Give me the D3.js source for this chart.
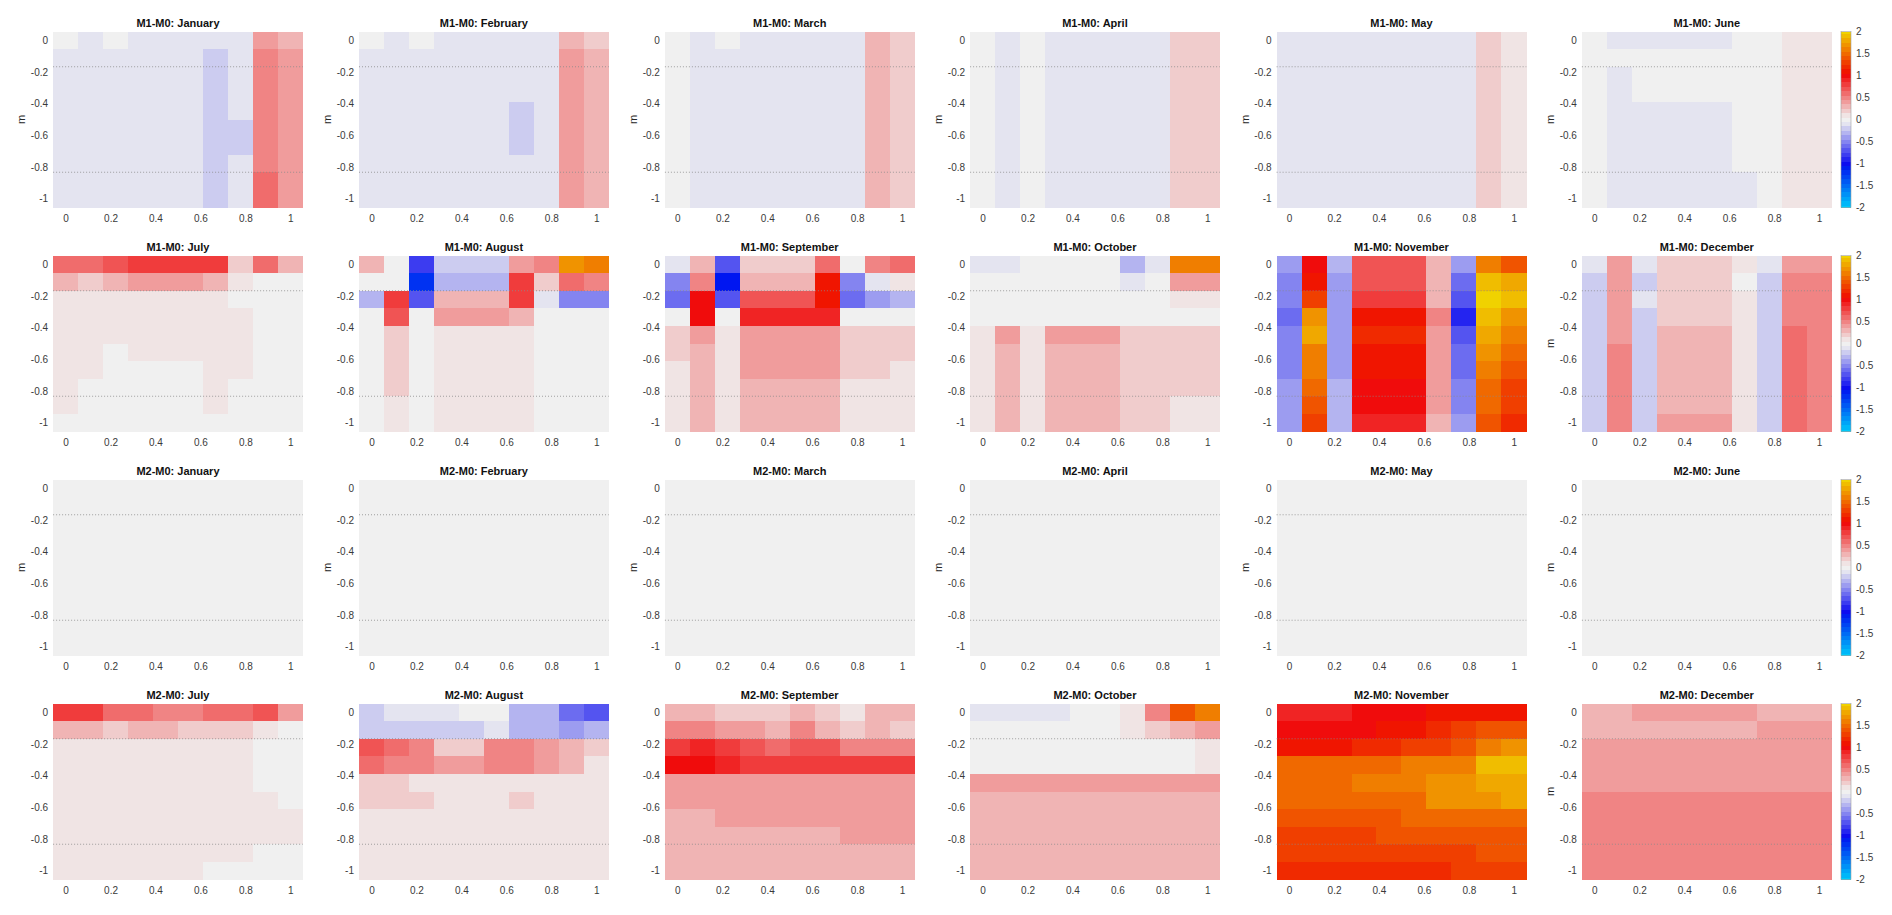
<!DOCTYPE html>
<html><head><meta charset="utf-8">
<script src="https://cdn.jsdelivr.net/npm/d3@7"></script>
<style>
body{margin:0;background:#fff}
svg{font-family:"Liberation Sans",Arial,Helvetica,sans-serif}
</style>
</head><body>
<svg id="chart" width="1892" height="915"></svg>
<script>
// ---------- grid coordinates & ticks ----------
const xGrid = [0,0.1111,0.2222,0.3333,0.4444,0.5556,0.6667,0.7778,0.8889,1];
const zGrid = [0,-0.1111,-0.2222,-0.3333,-0.4444,-0.5556,-0.6667,-0.7778,-0.8889,-1];
const xTicks = [0,0.2,0.4,0.6,0.8,1];
const yTicks = [0,-0.2,-0.4,-0.6,-0.8,-1];
const cbTicks = [2,1.5,1,0.5,0,-0.5,-1,-1.5,-2];
const refDepths = [-0.1667,-0.8333];
const monthNames = ["January","February","March","April","May","June","July","August","September","October","November","December"];
const runNames = ["M1-M0","M2-M0"];

// ---------- data (rows: depth 0 -> -1, columns: x 0 -> 1) ----------
const M1_January = [
[0,-0.1,0,-0.1,-0.1,-0.1,-0.1,-0.1,0.4,0.3],
[-0.1,-0.1,-0.1,-0.1,-0.1,-0.1,-0.2,-0.1,0.5,0.4],
[-0.1,-0.1,-0.1,-0.1,-0.1,-0.1,-0.2,-0.1,0.5,0.4],
[-0.1,-0.1,-0.1,-0.1,-0.1,-0.1,-0.2,-0.1,0.5,0.4],
[-0.1,-0.1,-0.1,-0.1,-0.1,-0.1,-0.2,-0.1,0.5,0.4],
[-0.1,-0.1,-0.1,-0.1,-0.1,-0.1,-0.2,-0.2,0.5,0.4],
[-0.1,-0.1,-0.1,-0.1,-0.1,-0.1,-0.2,-0.2,0.5,0.4],
[-0.1,-0.1,-0.1,-0.1,-0.1,-0.1,-0.2,-0.1,0.5,0.4],
[-0.1,-0.1,-0.1,-0.1,-0.1,-0.1,-0.2,-0.1,0.6,0.4],
[-0.1,-0.1,-0.1,-0.1,-0.1,-0.1,-0.2,-0.1,0.6,0.4]];
const M1_February = [
[0,-0.1,0,-0.1,-0.1,-0.1,-0.1,-0.1,0.3,0.2],
[-0.1,-0.1,-0.1,-0.1,-0.1,-0.1,-0.1,-0.1,0.4,0.3],
[-0.1,-0.1,-0.1,-0.1,-0.1,-0.1,-0.1,-0.1,0.4,0.3],
[-0.1,-0.1,-0.1,-0.1,-0.1,-0.1,-0.1,-0.1,0.4,0.3],
[-0.1,-0.1,-0.1,-0.1,-0.1,-0.1,-0.2,-0.1,0.4,0.3],
[-0.1,-0.1,-0.1,-0.1,-0.1,-0.1,-0.2,-0.1,0.4,0.3],
[-0.1,-0.1,-0.1,-0.1,-0.1,-0.1,-0.2,-0.1,0.4,0.3],
[-0.1,-0.1,-0.1,-0.1,-0.1,-0.1,-0.1,-0.1,0.4,0.3],
[-0.1,-0.1,-0.1,-0.1,-0.1,-0.1,-0.1,-0.1,0.4,0.3],
[-0.1,-0.1,-0.1,-0.1,-0.1,-0.1,-0.1,-0.1,0.4,0.3]];
const M1_March = [
[0,-0.1,0,-0.1,-0.1,-0.1,-0.1,-0.1,0.3,0.2],
[0,-0.1,-0.1,-0.1,-0.1,-0.1,-0.1,-0.1,0.3,0.2],
[0,-0.1,-0.1,-0.1,-0.1,-0.1,-0.1,-0.1,0.3,0.2],
[0,-0.1,-0.1,-0.1,-0.1,-0.1,-0.1,-0.1,0.3,0.2],
[0,-0.1,-0.1,-0.1,-0.1,-0.1,-0.1,-0.1,0.3,0.2],
[0,-0.1,-0.1,-0.1,-0.1,-0.1,-0.1,-0.1,0.3,0.2],
[0,-0.1,-0.1,-0.1,-0.1,-0.1,-0.1,-0.1,0.3,0.2],
[0,-0.1,-0.1,-0.1,-0.1,-0.1,-0.1,-0.1,0.3,0.2],
[0,-0.1,-0.1,-0.1,-0.1,-0.1,-0.1,-0.1,0.3,0.2],
[0,-0.1,-0.1,-0.1,-0.1,-0.1,-0.1,-0.1,0.3,0.2]];
const M1_April = [
[0,-0.1,0,-0.1,-0.1,-0.1,-0.1,-0.1,0.2,0.2],
[0,-0.1,0,-0.1,-0.1,-0.1,-0.1,-0.1,0.2,0.2],
[0,-0.1,0,-0.1,-0.1,-0.1,-0.1,-0.1,0.2,0.2],
[0,-0.1,0,-0.1,-0.1,-0.1,-0.1,-0.1,0.2,0.2],
[0,-0.1,0,-0.1,-0.1,-0.1,-0.1,-0.1,0.2,0.2],
[0,-0.1,0,-0.1,-0.1,-0.1,-0.1,-0.1,0.2,0.2],
[0,-0.1,0,-0.1,-0.1,-0.1,-0.1,-0.1,0.2,0.2],
[0,-0.1,0,-0.1,-0.1,-0.1,-0.1,-0.1,0.2,0.2],
[0,-0.1,0,-0.1,-0.1,-0.1,-0.1,-0.1,0.2,0.2],
[0,-0.1,0,-0.1,-0.1,-0.1,-0.1,-0.1,0.2,0.2]];
const M1_May = [
[-0.1,-0.1,-0.1,-0.1,-0.1,-0.1,-0.1,-0.1,0.2,0.1],
[-0.1,-0.1,-0.1,-0.1,-0.1,-0.1,-0.1,-0.1,0.2,0.1],
[-0.1,-0.1,-0.1,-0.1,-0.1,-0.1,-0.1,-0.1,0.2,0.1],
[-0.1,-0.1,-0.1,-0.1,-0.1,-0.1,-0.1,-0.1,0.2,0.1],
[-0.1,-0.1,-0.1,-0.1,-0.1,-0.1,-0.1,-0.1,0.2,0.1],
[-0.1,-0.1,-0.1,-0.1,-0.1,-0.1,-0.1,-0.1,0.2,0.1],
[-0.1,-0.1,-0.1,-0.1,-0.1,-0.1,-0.1,-0.1,0.2,0.1],
[-0.1,-0.1,-0.1,-0.1,-0.1,-0.1,-0.1,-0.1,0.2,0.1],
[-0.1,-0.1,-0.1,-0.1,-0.1,-0.1,-0.1,-0.1,0.2,0.1],
[-0.1,-0.1,-0.1,-0.1,-0.1,-0.1,-0.1,-0.1,0.2,0.1]];
const M1_June = [
[0,-0.1,-0.1,-0.1,-0.1,-0.1,0,0,0.1,0.1],
[0,0,0,0,0,0,0,0,0.1,0.1],
[0,-0.1,0,0,0,0,0,0,0.1,0.1],
[0,-0.1,0,0,0,0,0,0,0.1,0.1],
[0,-0.1,-0.1,-0.1,-0.1,-0.1,0,0,0.1,0.1],
[0,-0.1,-0.1,-0.1,-0.1,-0.1,0,0,0.1,0.1],
[0,-0.1,-0.1,-0.1,-0.1,-0.1,0,0,0.1,0.1],
[0,-0.1,-0.1,-0.1,-0.1,-0.1,0,0,0.1,0.1],
[0,-0.1,-0.1,-0.1,-0.1,-0.1,-0.1,0,0.1,0.1],
[0,-0.1,-0.1,-0.1,-0.1,-0.1,-0.1,0,0.1,0.1]];
const M1_July = [
[0.6,0.6,0.7,0.8,0.8,0.8,0.8,0.2,0.6,0.3],
[0.3,0.2,0.3,0.4,0.4,0.4,0.3,0.1,0,0],
[0.1,0.1,0.1,0.1,0.1,0.1,0.1,0,0,0],
[0.1,0.1,0.1,0.1,0.1,0.1,0.1,0.1,0,0],
[0.1,0.1,0.1,0.1,0.1,0.1,0.1,0.1,0,0],
[0.1,0.1,0,0.1,0.1,0.1,0.1,0.1,0,0],
[0.1,0.1,0,0,0,0,0.1,0.1,0,0],
[0.1,0,0,0,0,0,0.1,0,0,0],
[0.1,0,0,0,0,0,0.1,0,0,0],
[0,0,0,0,0,0,0,0,0,0]];
const M1_August = [
[0.3,0,-0.8,-0.2,-0.2,-0.2,0.4,0.5,1.7,1.6],
[0,0,-1.2,-0.3,-0.3,-0.3,0.8,0.2,0.6,0.5],
[-0.3,0.8,-0.7,0.3,0.3,0.3,0.8,-0.1,-0.5,-0.5],
[0,0.7,0,0.4,0.4,0.4,0.3,0,0,0],
[0,0.2,0,0.1,0.1,0.1,0.1,0,0,0],
[0,0.2,0,0.1,0.1,0.1,0.1,0,0,0],
[0,0.2,0,0.1,0.1,0.1,0.1,0,0,0],
[0,0.2,0,0.1,0.1,0.1,0.1,0,0,0],
[0,0.1,0,0.1,0.1,0.1,0.1,0,0,0],
[0,0.1,0,0.1,0.1,0.1,0.1,0,0,0]];
const M1_September = [
[-0.1,0.3,-0.7,0.2,0.2,0.2,0.6,0,0.5,0.6],
[-0.5,0.5,-1.05,0.3,0.3,0.3,1.1,-0.5,-0.1,0.1],
[-0.6,1.0,-0.7,0.7,0.7,0.7,1.1,-0.6,-0.4,-0.3],
[0,1.0,0,0.9,0.9,0.9,0.9,0,0,0],
[0.2,0.4,0.1,0.4,0.4,0.4,0.4,0.2,0.2,0.2],
[0.2,0.3,0.1,0.4,0.4,0.4,0.4,0.2,0.2,0.2],
[0.1,0.3,0.1,0.4,0.4,0.4,0.4,0.2,0.2,0.1],
[0.1,0.3,0.1,0.3,0.3,0.3,0.3,0.1,0.1,0.1],
[0.1,0.3,0.1,0.3,0.3,0.3,0.3,0.1,0.1,0.1],
[0.1,0.3,0.1,0.3,0.3,0.3,0.3,0.1,0.1,0.1]];
const M1_October = [
[-0.1,-0.1,0,0,0,0,-0.3,-0.1,1.6,1.6],
[0,0,0,0,0,0,-0.1,0,0.4,0.4],
[0,0,0,0,0,0,0,0,0.1,0.1],
[0,0,0,0,0,0,0,0,0,0],
[0.1,0.4,0.1,0.4,0.4,0.4,0.2,0.2,0.2,0.2],
[0.1,0.3,0.1,0.3,0.3,0.3,0.2,0.2,0.2,0.2],
[0.1,0.3,0.1,0.3,0.3,0.3,0.2,0.2,0.2,0.2],
[0.1,0.3,0.1,0.3,0.3,0.3,0.2,0.2,0.2,0.2],
[0.1,0.3,0.1,0.3,0.3,0.3,0.2,0.2,0.1,0.1],
[0.1,0.3,0.1,0.3,0.3,0.3,0.2,0.2,0.1,0.1]];
const M1_November = [
[-0.4,1.0,-0.3,0.7,0.7,0.7,0.3,-0.4,1.6,1.4],
[-0.5,1.1,-0.4,0.7,0.7,0.7,0.3,-0.6,1.9,1.8],
[-0.5,1.3,-0.4,0.8,0.8,0.8,0.3,-0.7,2.0,1.9],
[-0.6,1.7,-0.4,1.1,1.1,1.1,0.5,-0.9,1.9,1.7],
[-0.5,1.8,-0.4,1.2,1.2,1.2,0.4,-0.7,1.8,1.6],
[-0.5,1.6,-0.4,1.1,1.1,1.1,0.4,-0.6,1.7,1.5],
[-0.5,1.6,-0.4,1.1,1.1,1.1,0.4,-0.6,1.6,1.4],
[-0.4,1.5,-0.3,1.0,1.0,1.0,0.4,-0.5,1.5,1.3],
[-0.4,1.4,-0.3,1.0,1.0,1.0,0.4,-0.5,1.5,1.3],
[-0.4,1.3,-0.3,0.9,0.9,0.9,0.3,-0.4,1.4,1.2]];
const M1_December = [
[-0.1,0.4,-0.1,0.2,0.2,0.2,0.1,-0.1,0.4,0.4],
[-0.2,0.4,-0.2,0.2,0.2,0.2,0,-0.2,0.5,0.5],
[-0.2,0.4,-0.1,0.2,0.2,0.2,0.1,-0.2,0.5,0.5],
[-0.2,0.4,-0.2,0.2,0.2,0.2,0.1,-0.2,0.5,0.5],
[-0.2,0.4,-0.2,0.3,0.3,0.3,0.1,-0.2,0.6,0.5],
[-0.2,0.5,-0.2,0.3,0.3,0.3,0.1,-0.2,0.6,0.5],
[-0.2,0.5,-0.2,0.3,0.3,0.3,0.1,-0.2,0.6,0.5],
[-0.2,0.5,-0.2,0.3,0.3,0.3,0.1,-0.2,0.6,0.5],
[-0.2,0.5,-0.2,0.3,0.3,0.3,0.1,-0.2,0.6,0.5],
[-0.2,0.5,-0.2,0.4,0.4,0.4,0.1,-0.2,0.6,0.5]];

const M2_January = [
[0,0,0,0,0,0,0,0,0,0],[0,0,0,0,0,0,0,0,0,0],[0,0,0,0,0,0,0,0,0,0],[0,0,0,0,0,0,0,0,0,0],[0,0,0,0,0,0,0,0,0,0],
[0,0,0,0,0,0,0,0,0,0],[0,0,0,0,0,0,0,0,0,0],[0,0,0,0,0,0,0,0,0,0],[0,0,0,0,0,0,0,0,0,0],[0,0,0,0,0,0,0,0,0,0]];
const M2_February = [
[0,0,0,0,0,0,0,0,0,0],[0,0,0,0,0,0,0,0,0,0],[0,0,0,0,0,0,0,0,0,0],[0,0,0,0,0,0,0,0,0,0],[0,0,0,0,0,0,0,0,0,0],
[0,0,0,0,0,0,0,0,0,0],[0,0,0,0,0,0,0,0,0,0],[0,0,0,0,0,0,0,0,0,0],[0,0,0,0,0,0,0,0,0,0],[0,0,0,0,0,0,0,0,0,0]];
const M2_March = [
[0,0,0,0,0,0,0,0,0,0],[0,0,0,0,0,0,0,0,0,0],[0,0,0,0,0,0,0,0,0,0],[0,0,0,0,0,0,0,0,0,0],[0,0,0,0,0,0,0,0,0,0],
[0,0,0,0,0,0,0,0,0,0],[0,0,0,0,0,0,0,0,0,0],[0,0,0,0,0,0,0,0,0,0],[0,0,0,0,0,0,0,0,0,0],[0,0,0,0,0,0,0,0,0,0]];
const M2_April = [
[0,0,0,0,0,0,0,0,0,0],[0,0,0,0,0,0,0,0,0,0],[0,0,0,0,0,0,0,0,0,0],[0,0,0,0,0,0,0,0,0,0],[0,0,0,0,0,0,0,0,0,0],
[0,0,0,0,0,0,0,0,0,0],[0,0,0,0,0,0,0,0,0,0],[0,0,0,0,0,0,0,0,0,0],[0,0,0,0,0,0,0,0,0,0],[0,0,0,0,0,0,0,0,0,0]];
const M2_May = [
[0,0,0,0,0,0,0,0,0,0],[0,0,0,0,0,0,0,0,0,0],[0,0,0,0,0,0,0,0,0,0],[0,0,0,0,0,0,0,0,0,0],[0,0,0,0,0,0,0,0,0,0],
[0,0,0,0,0,0,0,0,0,0],[0,0,0,0,0,0,0,0,0,0],[0,0,0,0,0,0,0,0,0,0],[0,0,0,0,0,0,0,0,0,0],[0,0,0,0,0,0,0,0,0,0]];
const M2_June = [
[0,0,0,0,0,0,0,0,0,0],[0,0,0,0,0,0,0,0,0,0],[0,0,0,0,0,0,0,0,0,0],[0,0,0,0,0,0,0,0,0,0],[0,0,0,0,0,0,0,0,0,0],
[0,0,0,0,0,0,0,0,0,0],[0,0,0,0,0,0,0,0,0,0],[0,0,0,0,0,0,0,0,0,0],[0,0,0,0,0,0,0,0,0,0],[0,0,0,0,0,0,0,0,0,0]];
const M2_July = [
[0.8,0.8,0.6,0.6,0.5,0.5,0.6,0.6,0.7,0.4],
[0.3,0.3,0.2,0.3,0.3,0.2,0.2,0.2,0.1,0],
[0.1,0.1,0.1,0.1,0.1,0.1,0.1,0.1,0,0],
[0.1,0.1,0.1,0.1,0.1,0.1,0.1,0.1,0,0],
[0.1,0.1,0.1,0.1,0.1,0.1,0.1,0.1,0,0],
[0.1,0.1,0.1,0.1,0.1,0.1,0.1,0.1,0.1,0],
[0.1,0.1,0.1,0.1,0.1,0.1,0.1,0.1,0.1,0.1],
[0.1,0.1,0.1,0.1,0.1,0.1,0.1,0.1,0.1,0.1],
[0.1,0.1,0.1,0.1,0.1,0.1,0.1,0.1,0,0],
[0.1,0.1,0.1,0.1,0.1,0.1,0,0,0,0]];
const M2_August = [
[-0.2,-0.1,-0.1,-0.1,0,0,-0.3,-0.3,-0.6,-0.7],
[-0.2,-0.2,-0.2,-0.2,-0.2,-0.1,-0.3,-0.3,-0.4,-0.3],
[0.7,0.6,0.5,0.2,0.2,0.5,0.5,0.4,0.3,0.2],
[0.6,0.5,0.5,0.4,0.4,0.5,0.5,0.4,0.3,0.1],
[0.2,0.2,0.1,0.1,0.1,0.1,0.1,0.1,0.1,0.1],
[0.2,0.2,0.2,0.1,0.1,0.1,0.2,0.1,0.1,0.1],
[0.1,0.1,0.1,0.1,0.1,0.1,0.1,0.1,0.1,0.1],
[0.1,0.1,0.1,0.1,0.1,0.1,0.1,0.1,0.1,0.1],
[0.1,0.1,0.1,0.1,0.1,0.1,0.1,0.1,0.1,0.1],
[0.1,0.1,0.1,0.1,0.1,0.1,0.1,0.1,0.1,0.1]];
const M2_September = [
[0.3,0.3,0.2,0.2,0.2,0.3,0.2,0.1,0.3,0.3],
[0.5,0.5,0.4,0.4,0.3,0.5,0.3,0.2,0.3,0.2],
[0.8,0.9,0.8,0.7,0.6,0.7,0.7,0.5,0.5,0.5],
[1.0,1.0,0.9,0.8,0.8,0.8,0.8,0.8,0.8,0.8],
[0.4,0.4,0.4,0.4,0.4,0.4,0.4,0.4,0.4,0.4],
[0.4,0.4,0.4,0.4,0.4,0.4,0.4,0.4,0.4,0.4],
[0.3,0.3,0.4,0.4,0.4,0.4,0.4,0.4,0.4,0.4],
[0.3,0.3,0.3,0.3,0.3,0.3,0.3,0.4,0.4,0.4],
[0.3,0.3,0.3,0.3,0.3,0.3,0.3,0.3,0.3,0.3],
[0.3,0.3,0.3,0.3,0.3,0.3,0.3,0.3,0.3,0.3]];
const M2_October = [
[-0.1,-0.1,-0.1,-0.1,0,0,0.1,0.5,1.4,1.6],
[0,0,0,0,0,0,0.1,0.2,0.3,0.4],
[0,0,0,0,0,0,0,0,0,0.1],
[0,0,0,0,0,0,0,0,0,0.1],
[0.4,0.4,0.4,0.4,0.4,0.4,0.4,0.4,0.4,0.4],
[0.3,0.3,0.3,0.3,0.3,0.3,0.3,0.3,0.3,0.3],
[0.3,0.3,0.3,0.3,0.3,0.3,0.3,0.3,0.3,0.3],
[0.3,0.3,0.3,0.3,0.3,0.3,0.3,0.3,0.3,0.3],
[0.3,0.3,0.3,0.3,0.3,0.3,0.3,0.3,0.3,0.3],
[0.3,0.3,0.3,0.3,0.3,0.3,0.3,0.3,0.3,0.3]];
const M2_November = [
[0.9,0.9,0.9,1.0,1.0,1.0,1.1,1.1,1.1,1.1],
[1.0,1.0,1.0,1.0,1.1,1.1,1.2,1.3,1.4,1.4],
[1.1,1.1,1.1,1.2,1.2,1.3,1.3,1.4,1.6,1.7],
[1.5,1.5,1.5,1.5,1.5,1.6,1.6,1.6,1.9,1.9],
[1.5,1.5,1.5,1.6,1.6,1.6,1.7,1.7,1.8,1.8],
[1.5,1.5,1.5,1.5,1.5,1.5,1.7,1.7,1.7,1.8],
[1.4,1.4,1.4,1.4,1.4,1.5,1.5,1.5,1.5,1.5],
[1.3,1.3,1.3,1.3,1.4,1.4,1.4,1.4,1.4,1.4],
[1.3,1.3,1.3,1.3,1.3,1.3,1.3,1.3,1.4,1.4],
[1.2,1.2,1.2,1.2,1.2,1.2,1.2,1.3,1.3,1.3]];
const M2_December = [
[0.3,0.3,0.4,0.4,0.4,0.4,0.4,0.3,0.3,0.3],
[0.3,0.3,0.3,0.3,0.3,0.3,0.3,0.4,0.4,0.4],
[0.4,0.4,0.4,0.4,0.4,0.4,0.4,0.4,0.4,0.4],
[0.4,0.4,0.4,0.4,0.4,0.4,0.4,0.4,0.4,0.4],
[0.4,0.4,0.4,0.4,0.4,0.4,0.4,0.4,0.4,0.4],
[0.5,0.5,0.5,0.5,0.5,0.5,0.5,0.5,0.5,0.5],
[0.5,0.5,0.5,0.5,0.5,0.5,0.5,0.5,0.5,0.5],
[0.5,0.5,0.5,0.5,0.5,0.5,0.5,0.5,0.5,0.5],
[0.5,0.5,0.5,0.5,0.5,0.5,0.5,0.5,0.5,0.5],
[0.5,0.5,0.5,0.5,0.5,0.5,0.5,0.5,0.5,0.5]];

const M1_data = [M1_January,M1_February,M1_March,M1_April,M1_May,M1_June,M1_July,M1_August,M1_September,M1_October,M1_November,M1_December];
const M2_data = [M2_January,M2_February,M2_March,M2_April,M2_May,M2_June,M2_July,M2_August,M2_September,M2_October,M2_November,M2_December];

// ---------- layout ----------
const colLeft = [53.1,359.0,664.9,970.1,1276.6,1581.9];
const rowTop = [31.6,255.6,479.6,703.6];
const panelW = 249.7, panelH = 175.8;

// ---------- colour map (gray at 0, blue->cyan negative, red->yellow positive) ----------
function cmap(v){
  if (Math.abs(v) < 1e-9) return "rgb(240,240,240)";
  if (v > 0 && v <= 1){ const g = Math.max(0,Math.round(252 - 240*v)); return `rgb(240,${g},${g})`; }
  if (v > 1){ const g = Math.round(Math.min(210, 210*(v-1))); return `rgb(240,${g},0)`; }
  if (v < 0 && v >= -1){ const g = Math.max(0,Math.round(252 + 240*v)); return `rgb(${g},${g},240)`; }
  const t = Math.min(1, -v-1);
  return `rgb(0,${Math.round(12+190*t)},${Math.round(240+10*t)})`;
}

const svg = d3.select("#chart");
const fmt = d => String(d);

const panels = [];
runNames.forEach((run, ri) => {
  const dataSet = ri === 0 ? M1_data : M2_data;
  monthNames.forEach((m, mi) => {
    panels.push({run, month:m, data:dataSet[mi], row: ri*2 + Math.floor(mi/6), col: mi%6});
  });
});

const halfX = (xGrid[1]-xGrid[0])/2;
const halfZ = (zGrid[0]-zGrid[1])/2;

panels.forEach(p => {
  const L = colLeft[p.col], T = rowTop[p.row];
  const x = d3.scaleLinear().domain([xGrid[0]-halfX, xGrid[xGrid.length-1]+halfX]).range([L, L+panelW]);
  const y = d3.scaleLinear().domain([zGrid[0]+halfZ, zGrid[zGrid.length-1]-halfZ]).range([T, T+panelH]);
  const g = svg.append("g");

  const cells = [];
  p.data.forEach((rowVals, i) => rowVals.forEach((v, j) => cells.push({x:xGrid[j], z:zGrid[i], v})));
  g.append("g").selectAll("rect").data(cells).join("rect")
    .attr("x", d => x(d.x - halfX))
    .attr("y", d => y(d.z + halfZ))
    .attr("width", d => x(d.x + halfX) - x(d.x - halfX) + 0.4)
    .attr("height", d => y(d.z - halfZ) - y(d.z + halfZ) + 0.4)
    .attr("fill", d => cmap(d.v))
    .attr("shape-rendering","crispEdges");

  // reference dotted lines
  g.append("g").selectAll("line").data(refDepths).join("line")
    .attr("x1", x.range()[0]).attr("x2", x.range()[1])
    .attr("y1", d => y(d)).attr("y2", d => y(d))
    .attr("stroke","#8a8a8a").attr("stroke-width",0.8).attr("stroke-dasharray","1,2");

  // axes
  const ax = g.append("g").attr("transform",`translate(0,${T+panelH})`)
    .call(d3.axisBottom(x).tickValues(xTicks).tickFormat(fmt).tickSize(0).tickPadding(8));
  const ay = g.append("g").attr("transform",`translate(${L},0)`)
    .call(d3.axisLeft(y).tickValues(yTicks).tickFormat(fmt).tickSize(0).tickPadding(5));
  [ax, ay].forEach(a => {
    a.select(".domain").remove();
    a.selectAll("text").attr("font-size",10).attr("fill","#3a3a3a").attr("font-family",'"Liberation Sans",Arial,sans-serif');
  });

  // title
  g.append("text").attr("x", L + panelW/2).attr("y", T - 4.5)
    .attr("text-anchor","middle").attr("font-size",11).attr("font-weight","bold").attr("fill","#111")
    .text(`${p.run}: ${p.month}`);

  // y label
  if (p.row % 2 === 0 || p.col === 5){
    g.append("text").attr("transform",`translate(${L-28},${T+panelH/2}) rotate(-90)`)
      .attr("text-anchor","middle").attr("font-size",11).attr("fill","#262626").text("m");
  }

  // colorbar
  if (p.col === 5){
    const cbX = 1841, cbW = 10;
    const cy = d3.scaleLinear().domain([2,-2]).range([T, T+panelH]);
    const levels = d3.range(-20, 21).map(k => k/10);
    const cb = svg.append("g");
    cb.selectAll("rect").data(levels).join("rect")
      .attr("x", cbX).attr("width", cbW)
      .attr("y", d => cy(Math.min(2, d+0.05)))
      .attr("height", d => cy(Math.max(-2, d-0.05)) - cy(Math.min(2, d+0.05)) + 0.3)
      .attr("fill", d => cmap(d)).attr("shape-rendering","crispEdges");
    cb.append("rect").attr("x",cbX).attr("y",T).attr("width",cbW).attr("height",panelH)
      .attr("fill","none").attr("stroke","#a0a0a0").attr("stroke-width",0.6);
    const ac = cb.append("g").attr("transform",`translate(${cbX+cbW},0)`)
      .call(d3.axisRight(cy).tickValues(cbTicks).tickFormat(fmt).tickSize(0).tickPadding(5));
    ac.select(".domain").remove();
    ac.selectAll("text").attr("font-size",10).attr("fill","#3a3a3a");
  }
});
</script>
</body></html>
